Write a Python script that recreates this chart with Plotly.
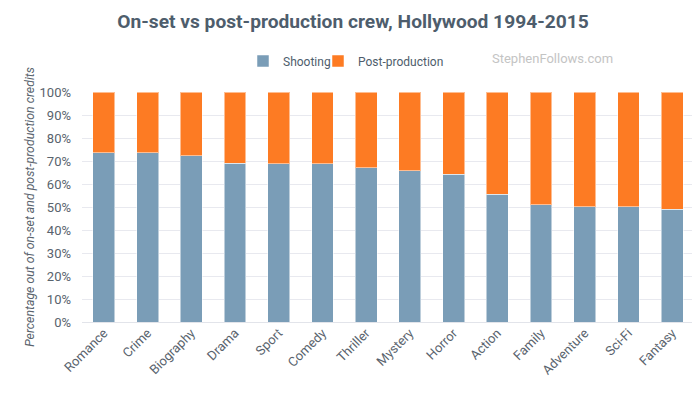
import plotly.graph_objects as go

genres = ["Romance", "Crime", "Biography", "Drama", "Sport", "Comedy", "Thriller",
          "Mystery", "Horror", "Action", "Family", "Adventure", "Sci-Fi", "Fantasy"]
shooting = [73.6, 73.6, 72.2, 69.1, 68.8, 68.8, 67.0, 65.7, 64.2, 55.5, 50.9, 50.1, 50.1, 49.1]
post_production = [round(100 - v, 1) for v in shooting]
y_ticks = list(range(0, 101, 10))
y_tick_labels = [f"{v}%" for v in y_ticks]

# page body has an 8px default margin, so the figure is drawn 8px in from the top-left
OFF = 8
W, H = 700 - OFF, 396 - OFF
L, R, T, B = 82 - OFF, 6, 92 - OFF, 74
PW, PH = W - L - R, H - T - B


def px_x(sx):
    return (sx - OFF - L) / PW


def px_y(sy):
    return 1 + (T - (sy - OFF)) / PH


fig = go.Figure()
fig.add_bar(x=genres, y=shooting, name="Shooting", legend="legend", showlegend=True,
            marker=dict(color="#7a9db7", line=dict(color="rgba(255,255,255,0.5)", width=1)))
fig.add_bar(x=genres, y=post_production, name="Post-production", legend="legend2", showlegend=True,
            marker=dict(color="#fd7b23", line=dict(color="rgba(255,255,255,0.5)", width=1)))

legend_common = dict(orientation="h", xanchor="left", yanchor="middle", visible=True,
                     font=dict(size=12, color="#4e5d6c"), bgcolor="rgba(0,0,0,0)")

fig.update_layout(
    width=W, height=H, showlegend=True,
    barmode="stack", bargap=0.5,
    margin=dict(l=L, r=R, t=T, b=B, autoexpand=False),
    paper_bgcolor="white", plot_bgcolor="white",
    font=dict(family="Roboto", color="#59636d", size=12),
    title=dict(text="<b>On-set vs post-production crew, Hollywood 1994-2015</b>",
               x=(353 - OFF) / W, xanchor="center", xref="container",
               y=1 - (21 - OFF) / H, yanchor="middle",
               font=dict(family="Roboto", size=19.2, color="#4e5d6c")),
    legend=dict(x=px_x(282 - 39), y=px_y(61), **legend_common),
    legend2=dict(x=px_x(357 - 39), y=px_y(61), **legend_common),
    xaxis=dict(tickangle=-45, showgrid=False, showline=False, ticks="",
               automargin=False, tickfont=dict(size=13, color="#59636d")),
    yaxis=dict(range=[0, 100], tickvals=y_ticks, ticktext=y_tick_labels,
               showgrid=True, gridcolor="#e8e9ef", gridwidth=1, automargin=False,
               zeroline=True, zerolinecolor="#e2e4ea", zerolinewidth=1,
               tickfont=dict(size=13, color="#59636d"), ticks="", ticklen=0,
               ticklabelstandoff=10,
               title=dict(text="<i>Percentage out of on-set and post-production credits</i>",
                          font=dict(size=12.3, color="#59636d"), standoff=2)),
    annotations=[dict(text="StephenFollows.com", xref="paper", yref="paper",
                      x=px_x(552), y=px_y(59),
                      xanchor="center", yanchor="middle", showarrow=False,
                      font=dict(family="Roboto", size=13, color="#c4c4c4"))],
)

fig.write_html("out.html")
